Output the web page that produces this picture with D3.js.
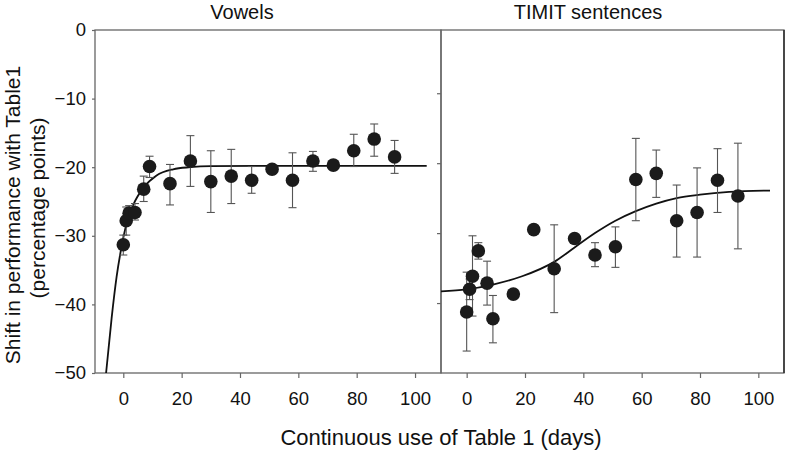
<!DOCTYPE html>
<html>
<head>
<meta charset="utf-8">
<script src="https://cdn.jsdelivr.net/npm/d3@7"></script>
<style>
  html, body { margin: 0; padding: 0; background: #fff; }
  svg { display: block; }
  text { font-family: "Liberation Sans", Arial, Helvetica, sans-serif; fill: #111; }
</style>
</head>
<body>
<svg id="chart" width="785" height="450"></svg>
<script>
// ---------- data ----------
const panelTitles = ["Vowels", "TIMIT sentences"];
const days = [0, 1, 2, 4, 7, 9, 16, 23, 30, 37, 44, 51, 58, 65, 72, 79, 86, 93];

const vowelsMean = [-31.3, -27.8, -26.7, -26.6, -23.2, -19.9, -22.4, -19.1, -22.1, -21.3, -21.9, -20.3, -21.9, -19.1, -19.7, -17.6, -15.9, -18.5];
const vowelsLow  = [-32.8, -29.9, -27.7, -27.7, -25.0, -21.5, -25.5, -22.8, -26.6, -25.3, -23.8, -21.0, -25.9, -20.6, -20.4, -19.9, -18.4, -20.9];
const vowelsHigh = [-29.9, -25.8, -25.6, -25.3, -21.3, -18.4, -19.6, -15.4, -17.6, -17.4, -19.9, -19.6, -17.9, -17.7, -19.0, -15.2, -13.7, -16.1];

const timitMean = [-41.1, -37.8, -35.9, -32.2, -36.9, -42.1, -38.5, -29.1, -34.8, -30.4, -32.8, -31.6, -21.8, -20.9, -27.8, -26.6, -21.9, -24.2];
const timitLow  = [-46.8, -39.3, -41.7, -33.4, -40.1, -45.6, -39.0, -29.8, -41.2, -31.0, -34.5, -34.6, -27.8, -24.4, -33.1, -33.1, -26.6, -31.9];
const timitHigh = [-35.3, -36.3, -30.0, -31.0, -33.7, -38.7, -38.0, -28.4, -28.4, -29.8, -31.0, -28.7, -15.8, -17.5, -22.6, -20.1, -17.3, -16.5];

// fitted curves
const vowelsFitDays = [-5.9, -4.0, -2.3, -0.6, 1.2, 3.4, 6.9, 11.4, 17.1, 22.9, 30, 50, 104];
const vowelsFitVals = [-50, -42.0, -36.0, -31.6, -28.1, -25.5, -23.0, -21.2, -20.3, -20.0, -19.85, -19.8, -19.8];
const timitFitDays = [-8.8, 0, 9, 19, 30, 37, 44, 51, 58, 65, 72, 80, 90, 104];
const timitFitVals = [-38.1, -37.8, -37.1, -35.9, -33.8, -31.7, -29.6, -27.8, -26.4, -25.3, -24.5, -24.0, -23.6, -23.4];

const xTicks = [0, 20, 40, 60, 80, 100];
const yTicks = [0, -10, -20, -30, -40, -50];
const yTicksRight = [-10, -20, -30, -40];
const xDomainLeft = [-9.7, 108.9];
const xDomainRight = [-8.8, 108.8];
const yDomain = [-50, 0];
const yTitle = ["Shift in performance with Table1", "(percentage points)"];
const xTitle = "Continuous use of Table 1 (days)";

// ---------- layout ----------
const svg = d3.select("#chart");
const plotTop = 30, plotBottom = 373;
const panels = [
  { x0: 95, x1: 441, domain: xDomainLeft, mean: vowelsMean, low: vowelsLow, high: vowelsHigh, fd: vowelsFitDays, fv: vowelsFitVals, title: panelTitles[0], tx: 242 },
  { x0: 441, x1: 784, domain: xDomainRight, mean: timitMean, low: timitLow, high: timitHigh, fd: timitFitDays, fv: timitFitVals, title: panelTitles[1], tx: 588 }
];

const y = d3.scaleLinear().domain(yDomain).range([plotBottom, plotTop]);
const yR = d3.scaleLinear().domain(yDomain).range([plotBottom, plotTop - 6.7]);

const frameColor = "#666";
const tickFont = 18.5;

panels.forEach((p, i) => {
  const x = d3.scaleLinear().domain(p.domain).range([p.x0, p.x1]);
  const clipId = "clip" + i;
  svg.append("clipPath").attr("id", clipId)
    .append("rect").attr("x", p.x0).attr("y", plotTop).attr("width", p.x1 - p.x0).attr("height", plotBottom - plotTop);

  // frame
  svg.append("rect")
    .attr("x", p.x0).attr("y", plotTop).attr("width", p.x1 - p.x0).attr("height", plotBottom - plotTop)
    .attr("fill", "none").attr("stroke", frameColor).attr("stroke-width", 1.3);

  // x axis ticks and labels
  const xa = svg.append("g").attr("transform", `translate(0,${plotBottom})`)
    .call(d3.axisBottom(x).tickValues(xTicks).tickSize(5).tickPadding(14).tickSizeOuter(0));
  xa.select(".domain").remove();
  xa.selectAll("line").attr("stroke", frameColor).attr("stroke-width", 1.2);
  xa.selectAll("text").attr("font-size", tickFont).attr("fill", "#111")
    .style("font-family", '"Liberation Sans", Arial, sans-serif');

  if (i === 0) {
    const ya = svg.append("g").attr("transform", `translate(${p.x0},0)`)
      .call(d3.axisLeft(y).tickValues(yTicks).tickSize(3).tickPadding(6).tickSizeOuter(0)
        .tickFormat(d => d === 0 ? "0" : "\u2212" + Math.abs(d)));
    ya.select(".domain").remove();
    ya.selectAll("line").attr("stroke", frameColor).attr("stroke-width", 1.2);
    ya.selectAll("text").attr("font-size", tickFont).attr("fill", "#111")
      .style("font-family", '"Liberation Sans", Arial, sans-serif');
  } else {
    const ya = svg.append("g").attr("transform", `translate(${p.x0},0)`)
      .call(d3.axisLeft(yR).tickValues(yTicksRight).tickSize(4).tickFormat(""));
    ya.select(".domain").remove();
    ya.selectAll("line").attr("stroke", frameColor).attr("stroke-width", 1.2);
  }

  // panel title
  svg.append("text").attr("x", p.tx).attr("y", 19).attr("text-anchor", "middle")
    .attr("font-size", 20).text(p.title);

  const g = svg.append("g").attr("clip-path", `url(#${clipId})`);

  // fitted curve
  const fit = p.fd.map((d, k) => [d, p.fv[k]]);
  g.append("path").datum(fit)
    .attr("fill", "none").attr("stroke", "#111").attr("stroke-width", 1.8)
    .attr("d", d3.line().x(d => x(d[0])).y(d => y(d[1])).curve(d3.curveMonotoneX));

  const pts = days.map((d, k) => ({ d, m: p.mean[k], lo: p.low[k], hi: p.high[k] }));

  // error bars
  const eb = g.append("g").attr("stroke", "#555").attr("stroke-width", 1.1);
  eb.selectAll(".v").data(pts).join("line")
    .attr("x1", d => x(d.d)).attr("x2", d => x(d.d))
    .attr("y1", d => y(d.lo)).attr("y2", d => y(d.hi));
  eb.selectAll(".ct").data(pts).join("line")
    .attr("x1", d => x(d.d) - 4).attr("x2", d => x(d.d) + 4)
    .attr("y1", d => y(d.hi)).attr("y2", d => y(d.hi));
  eb.selectAll(".cb").data(pts).join("line")
    .attr("x1", d => x(d.d) - 4).attr("x2", d => x(d.d) + 4)
    .attr("y1", d => y(d.lo)).attr("y2", d => y(d.lo));

  // points
  g.append("g").selectAll("circle").data(pts).join("circle")
    .attr("cx", d => x(d.d)).attr("cy", d => y(d.m)).attr("r", 6.8)
    .attr("fill", "#1b1b1b");
});

// right border darker
svg.append("line").attr("x1", 784).attr("x2", 784).attr("y1", plotTop).attr("y2", plotBottom)
  .attr("stroke", "#333").attr("stroke-width", 1.6);

// y title
const yt = svg.append("g");
yt.append("text").attr("transform", "translate(20,215) rotate(-90)")
  .attr("text-anchor", "middle").attr("font-size", 21).text(yTitle[0]);
yt.append("text").attr("transform", "translate(45,208) rotate(-90)")
  .attr("text-anchor", "middle").attr("font-size", 21).text(yTitle[1]);

// x title
svg.append("text").attr("x", 441).attr("y", 445).attr("text-anchor", "middle")
  .attr("font-size", 22).text(xTitle);
</script>
</body>
</html>
